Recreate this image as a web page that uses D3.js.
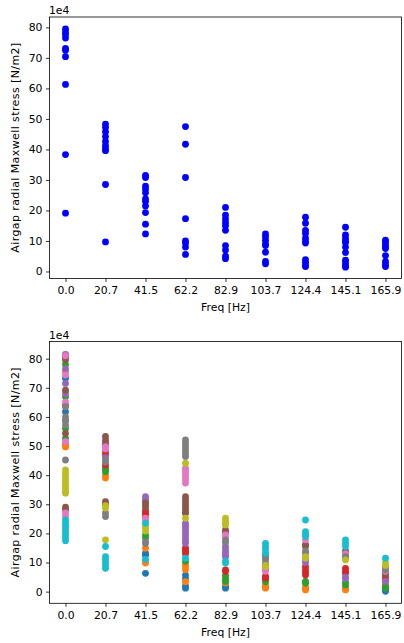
<!DOCTYPE html>
<html><head><meta charset="utf-8">
<script src="https://cdn.jsdelivr.net/npm/d3@7"></script>
<style>body{margin:0;background:#fff}svg{display:block}text{font-family:"DejaVu Sans",sans-serif;}</style>
</head><body><svg id="c" width="404" height="643"></svg>
<script>
// Frequencies (Hz) and tick labels
const freqs = [0, 20.74, 41.48, 62.21, 82.95, 103.69, 124.43, 145.17, 165.9];
const freqLabels = ["0.0","20.7","41.5","62.2","82.9","103.7","124.4","145.1","165.9"];
const yTicks = [0, 10, 20, 30, 40, 50, 60, 70, 80];

// Top chart: values (x1e4 N/m2) per frequency
const topValues = [
  [79.5, 78.5, 77.7, 76.5, 73.1, 72.5, 70.4, 61.3, 38.3, 19.1],
  [48.3, 47.3, 45.8, 44.2, 42.6, 41.2, 40.2, 39.6, 28.5, 9.7],
  [31.5, 30.8, 28.0, 27.0, 25.8, 23.8, 23.0, 21.5, 19.3, 15.5, 12.3],
  [47.5, 41.7, 30.8, 17.3, 10.0, 9.3, 8.0, 5.6],
  [21.0, 18.5, 17.2, 16.0, 15.0, 13.5, 8.5, 7.0, 5.0, 4.2],
  [12.3, 11.3, 10.2, 9.0, 8.5, 6.3, 3.3, 2.5],
  [17.8, 15.8, 13.5, 12.5, 11.0, 10.0, 9.3, 3.9, 3.0, 2.0, 1.6],
  [14.5, 12.0, 11.0, 10.0, 9.5, 8.0, 6.2, 3.7, 2.8, 1.9, 1.4],
  [10.3, 9.7, 8.8, 8.0, 7.5, 5.2, 3.3, 2.3, 1.6]
];

// Bottom chart: one array per series, values per frequency (x1e4 N/m2)
const sBlue = [[73.3,61.8,50.5],[42],[13.2,12.5,6.3],[5.7,4.5,2,1.2],[1.2,2],[1.5],[1],[1.2],[0.1,0.7]];
const sOrange = [[75.6,50.3,49.7],[39,40],[14.9,10.3,9.8],[9.5,8.6,7.5,3.4],[5,3],[1.2,2.2],[0.6,1.5],[0.6,1.5],[3,2]];
const sGreen = [[78,66.9,56,52.6],[41.2,42.5],[19.5,18.5],[10.4],[5.5,4,3.5],[3.4,4],[2.9,3.5],[2.3,3.2],[1.2,1.8]];
const sRed = [[81.3,64],[48,47,43.5],[27.8,26.9,26],[15,14.3,13.6,12.9],[7.5,6.9],[4.6,5.3],[8.6,7.5,6.5,5.7],[8,7,6.3],[5,4]];
const sPurple = [[81.5,76.5,71.5,68],[50.5,46],[32.6,31.8,31],[23.5,22.5,21.5,20.5,19.5,18.5,17.5,16.6],[15.5,14.5,13.5,12.5,12],[7.5],[11,10],[5,4.5],[3.5]];
const sBrown = [[80.5,79.6,69.2,54.3,29,28],[53.3,52,51,30.9,30],[30.5,29.8,29],[32.6,31.5,30.5,29.5,28.5,27.5,26.9],[21.2,20.5],[12,9.5],[16.2,15.5],[14,12.5],[6.5,6]];
const sPink = [[81,74.4,65.2,51.5,27,25.8],[49.8,49],[25.2,24.5],[42.4,41.5,40.5,39.5,38.5,37.3],[19.5,18.8],[7.8,7],[17.8],[13],[7]];
const sGray = [[63.5,60,59,58.5,57.2,45.2],[45.2,44.5,27,25.8],[17.2,16.5],[52.1,51,50,49,48,47,46.4],[17.8,17],[12.5,11.5,10.9],[14,13.2],[12,11.8],[8.5,7.5]];
const sOlive = [[41.8,40.5,39.5,38.5,37.5,36.5,35.5,34.5,33.8],[29.5,28.7,17.8],[22.5,21.8,20.8],[44.1,25.2],[25.2,24.2,23.2,22.9],[9,8.6],[12,11.5],[10.9],[10,9]];
const sCyan = [[24.6,23.5,22.5,21.5,20.5,19.5,18.5,17.5],[15.5,12,11,10,9,8],[23.5,11.1],[11.5],[10.5,9.8],[16.6,15.5,14.5,13.2],[24.6,20.6,19.7,18.9],[17.8,16.6,15.5],[11.5]];
const bottomSeries = [sBlue,sOrange,sGreen,sRed,sPurple,sBrown,sPink,sGray,sOlive,sCyan];
const colors = d3.schemeCategory10;

const svg = d3.select("#c");
const x = d3.scaleLinear().domain([-8.3, 174.2]).range([49.5, 401.5]);
const FS = 10.8;

function panel(top, bottom, yDomain, drawPoints) {
  const y = d3.scaleLinear().domain(yDomain).range([bottom, top]);
  const g = svg.append("g");
  drawPoints(g, y);
  g.append("rect").attr("x", 49.5).attr("y", top).attr("width", 352).attr("height", bottom - top)
    .attr("fill", "none").attr("stroke", "#000").attr("stroke-width", 0.8);
  const xa = g.append("g").attr("transform", `translate(0,${bottom})`)
    .call(d3.axisBottom(x).tickValues(freqs).tickFormat((d,i)=>freqLabels[i]).tickSize(3.5).tickPadding(4.5));
  const ya = g.append("g").attr("transform", `translate(49.5,0)`)
    .call(d3.axisLeft(y).tickValues(yTicks).tickSize(3.5).tickPadding(3.5));
  [xa, ya].forEach(a => {
    a.select(".domain").remove();
    a.selectAll("line").attr("stroke", "#000").attr("stroke-width", 0.8);
    a.selectAll("text").attr("font-size", FS).attr("fill", "#000").attr("font-family", "DejaVu Sans");
  });
  g.append("text").attr("x", 49).attr("y", top - 3).attr("font-size", FS).text("1e4");
  g.append("text").attr("x", 225.5).attr("y", bottom + 32.5).attr("text-anchor", "middle")
    .attr("font-size", FS).text("Freq [Hz]");
  g.append("text").attr("transform", `translate(19,${(top+bottom)/2}) rotate(-90)`)
    .attr("text-anchor", "middle").attr("font-size", 11)
    .attr("textLength", 210).attr("lengthAdjust", "spacing")
    .text("Airgap radial Maxwell stress [N/m2]");
}

panel(17, 278.5, [-2.3, 83.4], (g, y) => {
  topValues.forEach((vals, i) => {
    g.selectAll(null).data(vals).enter().append("circle")
      .attr("cx", x(freqs[i])).attr("cy", d => y(d)).attr("r", 3.4).attr("fill", "#0000ff");
  });
});

panel(341.5, 603.3, [-4.0, 85.9], (g, y) => {
  bottomSeries.forEach((ser, k) => {
    ser.forEach((vals, i) => {
      g.selectAll(null).data(vals).enter().append("circle")
        .attr("cx", x(freqs[i])).attr("cy", d => y(d)).attr("r", 3.4).attr("fill", colors[k]);
    });
  });
});
</script></body></html>
